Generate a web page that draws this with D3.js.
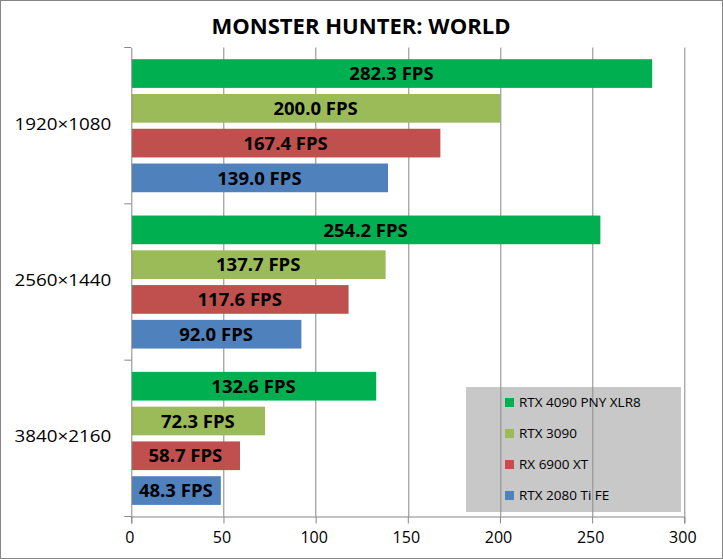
<!DOCTYPE html>
<html>
<head>
<meta charset="utf-8">
<script src="https://cdn.jsdelivr.net/npm/d3@7"></script>
<style>
  body { margin: 0; background: #fff; }
  #chart { width: 723px; height: 559px; }
  text { font-family: "Open Sans", sans-serif; }
</style>
</head>
<body>
<div id="chart"></div>
<script>
// chart data
const resolutions = ["1920×1080", "2560×1440", "3840×2160"];
const cards = ["RTX 4090 PNY XLR8", "RTX 3090", "RX 6900 XT", "RTX 2080 Ti FE"];
const rtx4090 = [282.3, 254.2, 132.6];
const rtx3090 = [200.0, 137.7, 72.3];
const rx6900 = [167.4, 117.6, 58.7];
const rtx2080ti = [139.0, 92.0, 48.3];
const xTicks = [0, 50, 100, 150, 200, 250, 300];

const cardColors = ["#00b050", "#9bbb59", "#c0504d", "#4f81bd"];

// the original chart text is a bit wider than our font, stretch it sideways
function stretchText(sel, factor) {
  sel.each(function () {
    let w = this.getComputedTextLength();
    d3.select(this)
      .attr("textLength", w * factor)
      .attr("lengthAdjust", "spacingAndGlyphs");
  });
}

class FpsBars {
  constructor(parentElement) {
    this.parentElement = parentElement;
    this.initVis();
  }

  initVis() {
    let vis = this;

    vis.width = 723;
    vis.height = 559;
    vis.margin = { top: 47.5, right: 38.7, bottom: 42.5, left: 131.3 };
    vis.innerW = vis.width - vis.margin.left - vis.margin.right;
    vis.innerH = vis.height - vis.margin.top - vis.margin.bottom;

    vis.svg = d3.select("#" + vis.parentElement)
      .append("svg")
      .attr("width", vis.width)
      .attr("height", vis.height);

    // chart border
    vis.svg.append("rect")
      .attr("x", 0.5).attr("y", 0.5)
      .attr("width", vis.width - 1).attr("height", vis.height - 1)
      .attr("fill", "#fff")
      .attr("stroke", "#868686");

    let title = vis.svg.append("text")
      .attr("x", 361)
      .attr("y", 34.3)
      .attr("text-anchor", "middle")
      .style("font-size", "21px")
      .style("font-weight", "bold")
      .text("MONSTER HUNTER: WORLD");
    stretchText(title, 1.05);

    vis.g = vis.svg.append("g")
      .attr("transform", `translate(${vis.margin.left},${vis.margin.top})`);

    vis.x = d3.scaleLinear().domain([0, 300]).range([0, vis.innerW]);
    vis.y = d3.scaleBand().domain(resolutions).range([0, vis.innerH]);
    vis.ySub = d3.scaleBand().domain(cards)
      .range([11.7, vis.y.bandwidth() - 11.6])
      .paddingInner(0.175);

    this.wrangleData();
  }

  wrangleData() {
    let vis = this;
    let series = [rtx4090, rtx3090, rx6900, rtx2080ti];

    vis.displayData = [];
    resolutions.forEach((res, i) => {
      cards.forEach((card, j) => {
        vis.displayData.push({ res: res, card: card, value: series[j][i], color: cardColors[j] });
      });
    });

    vis.updateVis();
  }

  updateVis() {
    let vis = this;

    // gridlines
    vis.g.selectAll(".grid")
      .data(xTicks.slice(1))
      .enter()
      .append("line")
      .attr("class", "grid")
      .attr("x1", d => Math.round(vis.x(d)) + 0.5)
      .attr("x2", d => Math.round(vis.x(d)) + 0.5)
      .attr("y1", 0)
      .attr("y2", vis.innerH)
      .attr("stroke", "#868686");

    // bars
    vis.g.selectAll(".bar")
      .data(vis.displayData)
      .enter()
      .append("rect")
      .attr("class", "bar")
      .attr("x", vis.x(0) + 0.5)
      .attr("y", d => vis.y(d.res) + vis.ySub(d.card))
      .attr("width", d => vis.x(d.value) - vis.x(0))
      .attr("height", vis.ySub.bandwidth())
      .attr("fill", d => d.color);

    vis.g.selectAll(".bar-label")
      .data(vis.displayData)
      .enter()
      .append("text")
      .attr("class", "bar-label")
      .attr("x", d => (vis.x(0) + vis.x(d.value)) / 2)
      .attr("y", d => vis.y(d.res) + vis.ySub(d.card) + vis.ySub.bandwidth() / 2)
      .attr("dy", "0.36em")
      .attr("text-anchor", "middle")
      .style("font-size", "18.5px")
      .style("font-weight", "bold")
      .text(d => d.value.toFixed(1) + " FPS");

    // axes
    vis.xAxis = d3.axisBottom(vis.x)
      .tickValues(xTicks)
      .tickSize(7)
      .tickPadding(8);

    vis.yAxis = d3.axisLeft(vis.y)
      .tickSize(0)
      .tickPadding(20);

    let xg = vis.g.append("g")
      .attr("class", "x-axis axis")
      .attr("transform", `translate(0,${vis.innerH})`)
      .call(vis.xAxis);

    let yg = vis.g.append("g")
      .attr("class", "y-axis axis")
      .call(vis.yAxis);

    // band boundary ticks on the category axis
    let bounds = resolutions.map(r => vis.y(r)).concat([vis.innerH]);
    yg.selectAll(".bound")
      .data(bounds)
      .enter()
      .append("line")
      .attr("class", "bound")
      .attr("x1", -7).attr("x2", 0)
      .attr("y1", d => d).attr("y2", d => d)
      .attr("stroke", "#868686");

    vis.svg.selectAll(".axis path, .axis line").attr("stroke", "#868686");
    xg.selectAll("text")
      .attr("fill", "#000")
      .attr("dx", "-2")
      .style("font-size", "16px")
      .style("font-family", "Open Sans");
    yg.selectAll(".tick text")
      .attr("fill", "#000")
      .attr("dy", "0.25em")
      .style("font-size", "16.5px")
      .style("font-family", "Open Sans");
    stretchText(yg.selectAll(".tick text"), 1.14);

    // legend
    let legend = vis.svg.append("g")
      .attr("transform", "translate(466,387)");

    legend.append("rect")
      .attr("width", 215)
      .attr("height", 125)
      .attr("fill", "#919191")
      .attr("fill-opacity", 0.5);

    let item = legend.selectAll(".legend-item")
      .data(cards)
      .enter()
      .append("g")
      .attr("class", "legend-item")
      .attr("transform", (d, i) => `translate(39,${15.5 + i * 31})`);

    item.append("rect")
      .attr("x", 0)
      .attr("y", -4.5)
      .attr("width", 9)
      .attr("height", 9)
      .attr("fill", (d, i) => cardColors[i]);

    item.append("text")
      .attr("x", 14)
      .attr("dy", "0.36em")
      .style("font-size", "13.5px")
      .text(d => d);
  }
}

new FpsBars("chart");
</script>
</body>
</html>
